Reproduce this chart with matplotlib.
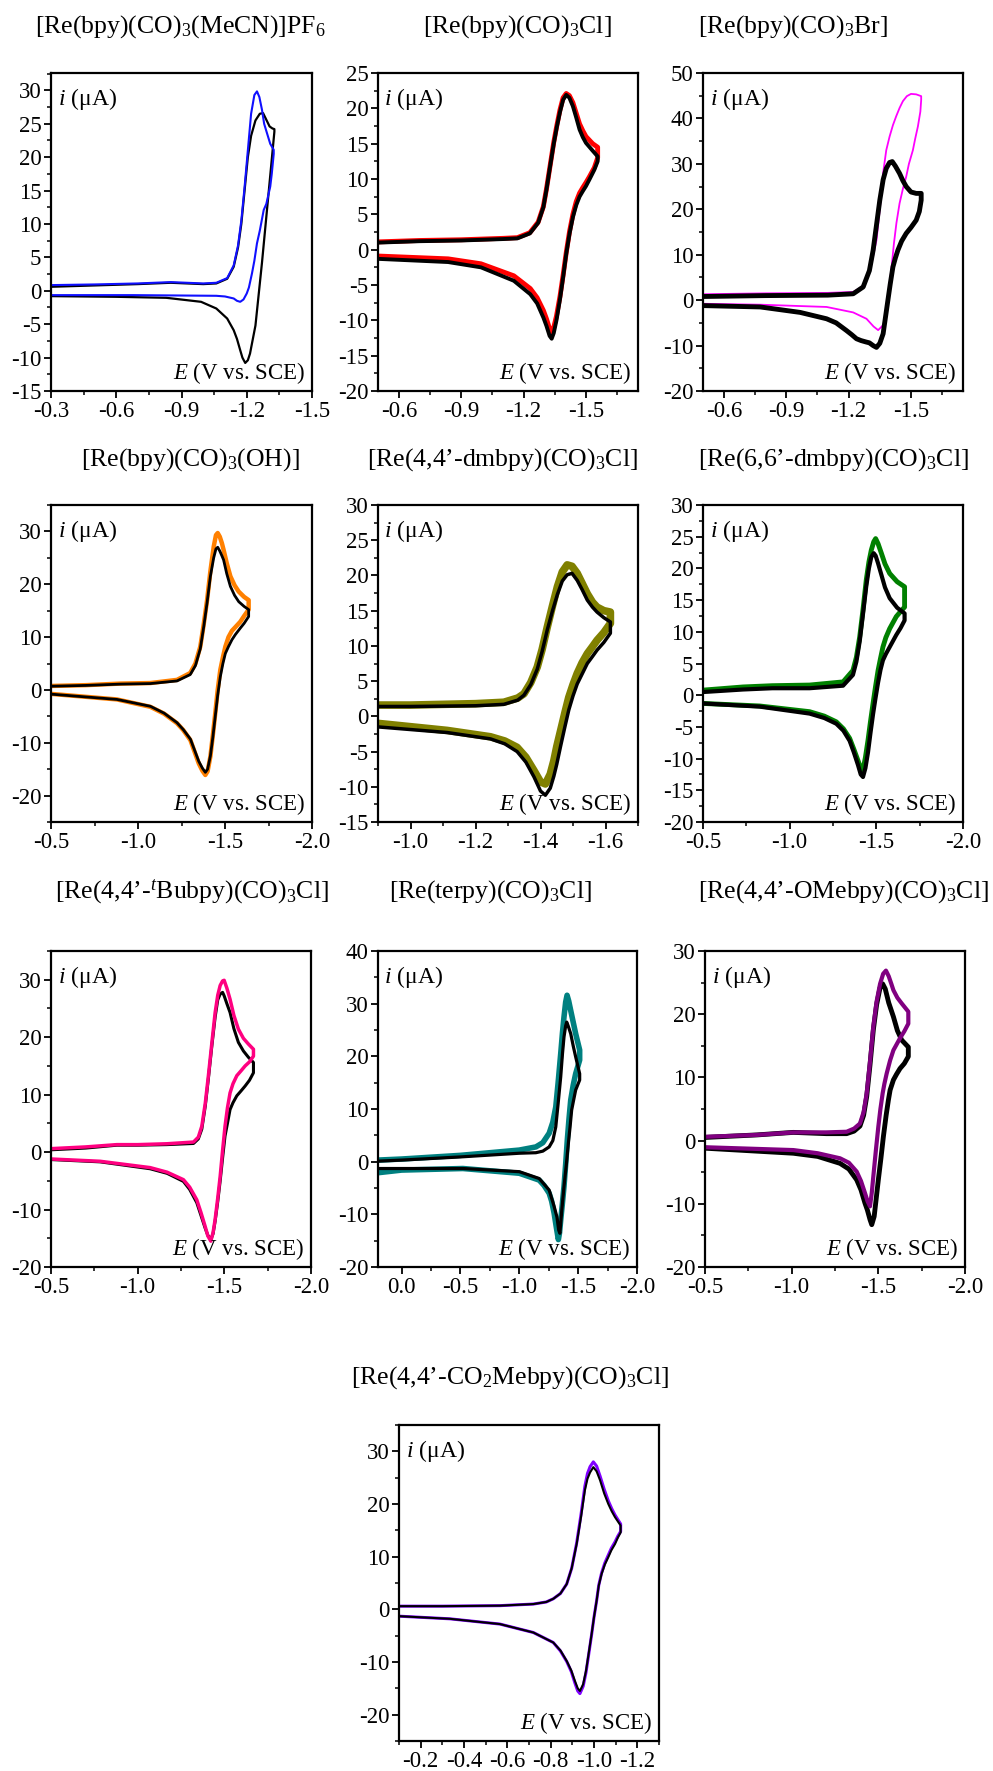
import matplotlib
matplotlib.use("Agg")
import matplotlib.pyplot as plt
from matplotlib.ticker import AutoMinorLocator, FormatStrFormatter, FixedLocator

plt.rcParams['font.family'] = ['Liberation Serif', 'DejaVu Serif']
plt.rcParams['mathtext.fontset'] = 'custom'
plt.rcParams['mathtext.rm'] = 'Liberation Serif'
plt.rcParams['mathtext.it'] = 'Liberation Serif:italic'
plt.rcParams['mathtext.default'] = 'regular'
plt.rcParams['axes.unicode_minus'] = False

# ---------------- data ----------------
titles = [
    r'[Re(bpy)(CO)$_3$(MeCN)]PF$_6$',
    r'[Re(bpy)(CO)$_3$Cl]',
    r'[Re(bpy)(CO)$_3$Br]',
    r'[Re(bpy)(CO)$_3$(OH)]',
    r'[Re(4,4’-dmbpy)(CO)$_3$Cl]',
    r'[Re(6,6’-dmbpy)(CO)$_3$Cl]',
    r'[Re(4,4’-$^{\mathit{t}}$Bubpy)(CO)$_3$Cl]',
    r'[Re(terpy)(CO)$_3$Cl]',
    r'[Re(4,4’-OMebpy)(CO)$_3$Cl]',
    r'[Re(4,4’-CO$_2$Mebpy)(CO)$_3$Cl]',
]

# Panel 1
p1_black_E = [-0.30, -0.50, -0.70, -0.85, -1.00, -1.06, -1.11, -1.14, -1.16, -1.175, -1.19, -1.205, -1.22, -1.24, -1.26, -1.275, -1.29, -1.305, -1.318, -1.327,
              -1.327, -1.30, -1.27, -1.24, -1.215, -1.205, -1.193, -1.18, -1.17, -1.155, -1.14, -1.11, -1.06, -0.99, -0.83, -0.60, -0.30]
p1_black_i = [0.6, 0.8, 1.0, 1.2, 1.0, 1.1, 1.8, 3.6, 6.5, 10.0, 15.0, 20.0, 23.2, 25.5, 26.5, 26.6, 25.6, 24.6, 24.3, 24.2,
              23.8, 14.5, 4.2, -5.2, -9.4, -10.4, -10.8, -10.0, -8.9, -7.2, -5.9, -4.15, -2.65, -1.65, -1.05, -0.9, -0.8]
p1_blue_E = [-0.30, -0.50, -0.70, -0.85, -1.00, -1.06, -1.11, -1.14, -1.16, -1.175, -1.19, -1.205, -1.22, -1.235, -1.247, -1.258, -1.27, -1.28, -1.293, -1.308, -1.324,
             -1.324, -1.315, -1.308, -1.29, -1.278, -1.26, -1.247, -1.235, -1.224, -1.21, -1.20, -1.185, -1.17, -1.155, -1.14, -1.10, -1.06, -0.68, -0.30]
p1_blue_i = [0.85, 0.95, 1.1, 1.3, 1.1, 1.2, 1.9, 3.8, 6.8, 10.5, 15.5, 21.0, 26.5, 29.3, 29.85, 29.0, 27.1, 25.0, 23.6, 22.0, 21.1,
             20.5, 17.5, 15.6, 13.0, 12.1, 9.0, 7.1, 4.5, 2.6, 0.5, -0.4, -1.3, -1.65, -1.5, -1.15, -0.85, -0.75, -0.65, -0.65]

# Panel 2
p2_E = [-0.5, -0.7, -0.9, -1.1, -1.17, -1.23, -1.27, -1.295, -1.31, -1.327, -1.345, -1.36, -1.375, -1.39, -1.405, -1.42, -1.437, -1.453, -1.469, -1.485, -1.50, -1.532, -1.556,
        -1.556, -1.54, -1.516, -1.50, -1.485, -1.469, -1.453, -1.437, -1.421, -1.405, -1.39, -1.375, -1.358, -1.345, -1.335, -1.325, -1.31, -1.295, -1.265, -1.232, -1.153, -0.995, -0.837, -0.5]
p2_black_i = [1.0, 1.2, 1.3, 1.5, 1.6, 2.3, 3.8, 6.0, 8.5, 11.7, 15.0, 17.4, 19.5, 21.2, 21.9, 21.5, 20.3, 18.7, 17.0, 15.9, 15.1, 14.0, 13.2,
              12.5, 11.3, 9.9, 9.0, 8.3, 7.5, 6.3, 4.6, 2.3, -0.6, -3.9, -7.0, -10.0, -11.8, -12.6, -12.2, -10.8, -9.6, -7.6, -6.3, -4.4, -2.5, -1.75, -1.3]
p2_red_i = [1.1, 1.3, 1.4, 1.6, 1.7, 2.4, 3.9, 6.1, 8.6, 11.8, 15.2, 17.6, 19.8, 21.5, 22.1, 21.8, 20.8, 19.3, 17.8, 16.8, 16.0, 15.0, 14.5,
            13.0, 11.6, 10.3, 9.5, 8.8, 8.0, 6.8, 5.0, 2.6, -0.4, -3.6, -6.6, -9.4, -11.0, -11.6, -11.2, -9.8, -8.6, -6.8, -5.5, -3.7, -2.0, -1.3, -0.9]

# Panel 3
p3_black_E = [-0.5, -0.8, -1.1, -1.222, -1.27, -1.30, -1.318, -1.334, -1.35, -1.366, -1.381, -1.397, -1.41, -1.425, -1.445, -1.461, -1.477, -1.50, -1.525, -1.549,
              -1.549, -1.54, -1.525, -1.50, -1.477, -1.455, -1.437, -1.425, -1.413, -1.40, -1.389, -1.375, -1.366, -1.35, -1.334, -1.318, -1.30, -1.283, -1.26, -1.238, -1.215, -1.19, -1.14, -1.094, -0.967, -0.775, -0.5]
p3_black_i = [0.8, 1.0, 1.1, 1.4, 2.9, 6.5, 11.0, 16.5, 22.0, 26.5, 29.0, 30.3, 30.5, 29.5, 27.9, 26.3, 25.0, 23.8, 23.5, 23.5,
              22.0, 19.5, 17.6, 16.0, 14.7, 13.0, 11.0, 9.3, 7.3, 3.5, 0.0, -4.5, -7.4, -9.5, -10.4, -10.0, -9.4, -9.2, -8.9, -8.5, -7.6, -6.7, -5.0, -4.1, -2.7, -1.5, -1.2]
p3_mag_E = [-0.5, -0.8, -1.1, -1.222, -1.26, -1.286, -1.31, -1.334, -1.35, -1.366, -1.381, -1.397, -1.413, -1.429, -1.445, -1.461, -1.48, -1.50, -1.525, -1.549,
            -1.549, -1.545, -1.533, -1.52, -1.509, -1.49, -1.477, -1.461, -1.445, -1.43, -1.418, -1.405, -1.397, -1.389, -1.381, -1.366, -1.342, -1.32, -1.286, -1.222, -1.094, -0.775, -0.5]
p3_mag_i = [1.3, 1.5, 1.6, 1.8, 2.8, 4.3, 8.0, 13.2, 20.0, 28.0, 33.0, 36.0, 38.5, 40.5, 42.3, 43.8, 44.9, 45.4, 45.3, 44.9,
            44.1, 41.5, 38.2, 35.5, 33.0, 30.0, 27.2, 24.5, 21.3, 17.0, 12.5, 6.5, 3.6, 0.5, -3.0, -5.5, -6.6, -5.8, -4.1, -2.7, -1.5, -1.0, -0.8]

# Panel 4
p4_E = [-0.5, -0.7, -0.9, -1.071, -1.224, -1.30, -1.33, -1.358, -1.378, -1.397, -1.416, -1.435, -1.448, -1.458, -1.47, -1.482, -1.492, -1.51, -1.531, -1.555, -1.579, -1.61, -1.636,
        -1.636, -1.61, -1.588, -1.56, -1.54, -1.52, -1.502, -1.488, -1.473, -1.458, -1.444, -1.43, -1.416, -1.40, -1.387, -1.37, -1.349, -1.325, -1.301, -1.26, -1.224, -1.15, -1.071, -0.879, -0.5]
p4_orange_i = [0.75, 0.9, 1.2, 1.3, 1.9, 3.2, 5.0, 8.2, 12.5, 17.0, 22.5, 27.1, 29.3, 29.7, 29.0, 27.8, 26.5, 24.0, 21.5, 19.8, 18.6, 17.6, 17.0,
               15.2, 14.0, 12.9, 11.9, 11.2, 10.0, 8.2, 6.2, 3.8, 0.0, -4.4, -8.6, -12.6, -15.4, -16.1, -15.3, -13.9, -11.7, -9.5, -7.6, -6.3, -4.5, -3.2, -1.8, -0.75]
p4_black_i = [0.7, 0.85, 1.1, 1.2, 1.7, 2.9, 4.6, 7.8, 12.0, 16.5, 21.5, 25.0, 26.7, 27.0, 26.3, 25.4, 24.6, 22.0, 19.6, 17.9, 16.7, 15.8, 15.2,
              13.9, 12.6, 11.7, 10.5, 9.5, 8.2, 6.9, 5.0, 2.5, -1.0, -5.0, -9.0, -12.5, -15.0, -15.6, -14.8, -13.5, -11.4, -9.3, -7.5, -6.2, -4.4, -3.1, -1.8, -0.8]

# Panel 5
p5_E = [-0.9, -1.0, -1.1, -1.2, -1.287, -1.33, -1.349, -1.37, -1.39, -1.405, -1.421, -1.437, -1.452, -1.467, -1.482, -1.497, -1.513, -1.528, -1.544, -1.56, -1.574, -1.595, -1.615,
        -1.615, -1.595, -1.574, -1.56, -1.544, -1.528, -1.513, -1.50, -1.487, -1.475, -1.462, -1.45, -1.441, -1.43, -1.415, -1.40, -1.38, -1.355, -1.328, -1.29, -1.246, -1.113, -0.9]
p5_olive_i = [1.6, 1.6, 1.7, 1.8, 2.0, 2.6, 3.2, 4.8, 7.0, 9.5, 12.7, 15.7, 18.4, 20.5, 21.5, 21.3, 20.3, 18.9, 17.4, 16.2, 15.5, 15.0, 14.8,
              13.2, 11.9, 10.8, 9.9, 8.9, 7.6, 6.1, 4.5, 2.7, 0.5, -2.0, -4.3, -6.3, -8.2, -9.6, -9.3, -7.7, -5.8, -4.4, -3.5, -2.9, -2.0, -1.0]
p5_black_i = [1.4, 1.4, 1.45, 1.5, 1.7, 2.3, 3.0, 4.5, 6.7, 9.2, 12.3, 15.0, 17.3, 19.2, 20.1, 20.3, 19.3, 18.0, 16.5, 15.5, 14.8, 14.0, 13.4,
              11.8, 10.5, 9.4, 8.5, 7.5, 6.0, 4.6, 2.9, 0.9, -1.5, -4.2, -6.8, -8.5, -10.2, -11.2, -10.6, -8.6, -6.5, -5.0, -3.9, -3.2, -2.3, -1.5]

# Panel 6
p6_E = [-0.5, -0.731, -0.9, -1.115, -1.308, -1.365, -1.385, -1.404, -1.423, -1.442, -1.457, -1.471, -1.485, -1.496, -1.51, -1.529, -1.55, -1.577, -1.62, -1.663,
        -1.663, -1.64, -1.615, -1.595, -1.577, -1.555, -1.538, -1.524, -1.51, -1.495, -1.481, -1.466, -1.452, -1.437, -1.423, -1.41, -1.394, -1.37, -1.346, -1.31, -1.269, -1.2, -1.115, -0.827, -0.5]
p6_green_i = [0.8, 1.3, 1.5, 1.6, 2.1, 3.9, 6.0, 9.2, 13.5, 18.2, 21.0, 22.9, 24.2, 24.7, 23.9, 22.4, 20.7, 19.2, 17.9, 17.1,
              13.9, 13.2, 12.4, 11.4, 10.5, 9.1, 7.6, 5.8, 3.9, 1.3, -1.3, -4.2, -7.1, -9.8, -11.8, -11.5, -10.3, -8.5, -6.8, -5.3, -4.2, -3.3, -2.6, -1.7, -1.3]
p6_black_i = [0.5, 0.9, 1.1, 1.1, 1.5, 3.2, 5.3, 8.5, 12.8, 17.2, 20.0, 21.8, 22.4, 22.0, 20.8, 19.0, 17.0, 15.3, 13.8, 12.9,
              11.8, 10.6, 9.5, 8.5, 7.6, 6.5, 5.5, 4.0, 2.0, -0.5, -3.0, -6.0, -9.0, -11.5, -12.9, -12.5, -11.0, -9.0, -7.2, -5.6, -4.5, -3.6, -2.9, -1.8, -1.3]

# Panel 7
p7_E = [-0.5, -0.7, -0.88, -1.0, -1.168, -1.322, -1.35, -1.37, -1.39, -1.408, -1.428, -1.447, -1.462, -1.476, -1.49, -1.499, -1.515, -1.533, -1.555, -1.581, -1.61, -1.639, -1.668,
        -1.668, -1.645, -1.62, -1.595, -1.572, -1.55, -1.533, -1.518, -1.504, -1.49, -1.476, -1.462, -1.447, -1.435, -1.422, -1.405, -1.389, -1.365, -1.341, -1.30, -1.264, -1.17, -1.072, -0.784, -0.5]
p7_pink_i = [0.6, 0.9, 1.3, 1.3, 1.45, 1.75, 2.6, 4.5, 8.5, 13.3, 19.0, 24.3, 27.3, 29.0, 29.8, 29.9, 28.5, 26.6, 23.8, 21.4, 19.8, 18.8, 17.9,
             16.7, 15.7, 15.0, 14.1, 13.3, 11.9, 10.3, 7.7, 4.5, 0.3, -4.2, -8.0, -11.7, -14.0, -15.5, -14.6, -12.9, -10.5, -8.3, -6.1, -4.8, -3.5, -2.7, -1.6, -1.2]
p7_black_i = [0.4, 0.7, 1.2, 1.2, 1.3, 1.5, 2.3, 4.0, 8.0, 12.8, 18.5, 23.5, 26.5, 27.5, 27.8, 27.2, 25.8, 24.3, 21.5, 19.1, 17.6, 16.5, 15.6,
              13.8, 12.5, 11.5, 10.6, 9.8, 8.6, 7.4, 5.0, 2.8, -1.0, -5.0, -8.6, -12.0, -14.2, -15.2, -14.5, -13.2, -11.0, -8.8, -6.5, -5.1, -3.7, -2.9, -1.7, -1.3]

# Panel 8
p8_teal_E = [0.2, 0.0, -0.5, -1.0, -1.141, -1.2, -1.254, -1.285, -1.31, -1.33, -1.352, -1.367, -1.38, -1.394, -1.406, -1.42, -1.437, -1.458, -1.479, -1.513,
             -1.513, -1.479, -1.458, -1.437, -1.422, -1.408, -1.394, -1.38, -1.366, -1.352, -1.342, -1.332, -1.315, -1.296, -1.275, -1.254, -1.21, -1.169, -1.0, -0.521, 0.0, 0.2]
p8_teal_i = [0.3, 0.5, 1.2, 2.2, 2.8, 3.6, 5.4, 7.5, 10.4, 15.0, 20.5, 24.5, 27.5, 30.3, 31.6, 30.5, 28.7, 26.5, 24.3, 21.2,
             19.3, 16.7, 14.5, 11.7, 8.0, 4.1, -0.5, -4.7, -8.0, -11.1, -13.5, -14.8, -12.5, -9.8, -7.5, -6.0, -4.5, -3.5, -2.2, -1.3, -1.6, -2.1]
p8_black_E = [0.2, 0.0, -0.5, -1.0, -1.141, -1.2, -1.254, -1.285, -1.31, -1.33, -1.352, -1.367, -1.38, -1.394, -1.403, -1.415, -1.437, -1.458, -1.479, -1.513,
              -1.513, -1.479, -1.46, -1.445, -1.431, -1.417, -1.40, -1.38, -1.36, -1.345, -1.335, -1.32, -1.296, -1.254, -1.169, -1.0, -0.521, 0.2]
p8_black_i = [0.1, 0.3, 0.9, 1.6, 1.7, 2.0, 2.8, 4.0, 6.6, 11.0, 16.1, 20.5, 23.7, 25.8, 26.5, 25.8, 24.3, 22.0, 19.9, 16.7,
              15.5, 13.6, 11.5, 9.8, 6.5, 3.5, -0.5, -4.7, -9.5, -13.6, -13.0, -10.5, -8.5, -5.4, -3.2, -1.9, -1.3, -1.3]

# Panel 9
p9_purple_E = [-0.5, -0.8, -1.01, -1.2, -1.317, -1.36, -1.394, -1.415, -1.433, -1.452, -1.471, -1.49, -1.51, -1.528, -1.544, -1.56, -1.575, -1.587, -1.61, -1.635, -1.673,
               -1.673, -1.65, -1.625, -1.605, -1.587, -1.568, -1.548, -1.535, -1.525, -1.512, -1.50, -1.486, -1.471, -1.462, -1.452, -1.438, -1.423, -1.40, -1.375, -1.33, -1.279, -1.15, -1.01, -0.5]
p9_purple_i = [0.6, 0.9, 1.3, 1.3, 1.4, 1.9, 2.7, 4.5, 7.5, 12.5, 18.0, 22.0, 24.8, 26.4, 26.9, 26.0, 24.8, 23.8, 22.6, 21.7, 20.4,
               18.5, 17.3, 16.2, 15.2, 14.3, 12.7, 10.6, 9.0, 7.5, 5.0, 2.2, -1.5, -5.7, -8.3, -10.4, -9.6, -8.3, -6.4, -4.9, -3.5, -2.8, -2.0, -1.5, -1.05]
p9_black_E = [-0.5, -0.8, -1.01, -1.2, -1.317, -1.36, -1.394, -1.415, -1.433, -1.452, -1.471, -1.49, -1.51, -1.525, -1.54, -1.56, -1.587, -1.61, -1.635, -1.673,
              -1.673, -1.65, -1.625, -1.605, -1.587, -1.568, -1.558, -1.545, -1.529, -1.515, -1.50, -1.486, -1.476, -1.462, -1.452, -1.437, -1.423, -1.40, -1.375, -1.33, -1.279, -1.15, -1.01, -0.5]
p9_black_i = [0.5, 0.9, 1.3, 1.1, 1.1, 1.5, 2.3, 4.0, 7.0, 12.0, 17.5, 21.5, 24.2, 24.8, 24.0, 21.8, 19.6, 17.4, 15.9, 14.8,
              13.3, 12.2, 11.4, 10.5, 9.6, 8.0, 6.4, 4.0, 0.6, -2.8, -6.2, -9.6, -12.0, -13.3, -12.5, -11.0, -9.9, -7.8, -6.2, -4.5, -3.6, -2.5, -2.0, -1.2]

# Panel 10
p10_E = [-0.1, -0.3, -0.566, -0.72, -0.78, -0.812, -0.845, -0.874, -0.897, -0.92, -0.94, -0.958, -0.97, -0.982, -0.997, -1.012, -1.028, -1.047, -1.066, -1.082, -1.097, -1.123,
         -1.123, -1.11, -1.097, -1.08, -1.066, -1.05, -1.035, -1.022, -1.012, -1.0, -0.989, -0.975, -0.963, -0.95, -0.935, -0.925, -0.912, -0.895, -0.874, -0.845, -0.812, -0.72, -0.566, -0.335, -0.1]
p10_black_i = [0.6, 0.6, 0.7, 1.0, 1.4, 2.0, 3.0, 4.8, 7.8, 12.4, 17.5, 22.6, 24.8, 26.0, 27.0, 26.2, 24.5, 22.0, 20.0, 18.6, 17.5, 15.9,
               14.6, 13.6, 12.4, 11.2, 9.9, 8.5, 6.7, 4.5, 1.6, -1.5, -4.7, -8.5, -11.7, -14.2, -15.5, -15.0, -13.6, -11.6, -9.8, -7.8, -6.3, -4.4, -2.8, -1.8, -1.3]
p10_violet_i = [0.6, 0.6, 0.7, 1.0, 1.4, 2.0, 3.0, 4.8, 7.8, 12.6, 18.0, 23.4, 25.8, 27.1, 28.0, 27.2, 25.3, 22.8, 20.6, 19.1, 17.9, 16.2,
                14.8, 13.9, 12.8, 11.6, 10.3, 8.8, 6.9, 4.6, 1.6, -1.5, -4.8, -8.7, -12.0, -14.6, -16.0, -15.5, -14.0, -11.8, -9.9, -7.9, -6.3, -4.4, -2.8, -1.8, -1.3]

# axis limits and ticks
xlims = [(-0.3, -1.5), (-0.5, -1.75), (-0.5, -1.75), (-0.5, -2.0), (-0.9, -1.7),
         (-0.5, -2.0), (-0.5, -2.0), (0.2, -2.0), (-0.5, -2.0), (-0.1, -1.3)]
ylims = [(-15, 32.6), (-20, 25), (-20, 50), (-25, 35), (-15, 30),
         (-20, 30), (-20, 35), (-20, 40), (-20, 30), (-25, 35)]
xticks = [[-0.3, -0.6, -0.9, -1.2, -1.5], [-0.6, -0.9, -1.2, -1.5], [-0.6, -0.9, -1.2, -1.5],
          [-0.5, -1.0, -1.5, -2.0], [-1.0, -1.2, -1.4, -1.6], [-0.5, -1.0, -1.5, -2.0],
          [-0.5, -1.0, -1.5, -2.0], [0.0, -0.5, -1.0, -1.5, -2.0], [-0.5, -1.0, -1.5, -2.0],
          [-0.2, -0.4, -0.6, -0.8, -1.0, -1.2]]
yticks = [list(range(-15, 31, 5)), list(range(-20, 26, 5)), list(range(-20, 51, 10)),
          list(range(-20, 31, 10)), list(range(-15, 31, 5)), list(range(-20, 31, 5)),
          list(range(-20, 31, 10)), list(range(-20, 41, 10)), list(range(-20, 31, 10)),
          list(range(-20, 31, 10))]

# ---------------- layout ----------------
W, H = 993, 1771
fig = plt.figure(figsize=(W / 100, H / 100), dpi=100)
fig.patch.set_facecolor('white')

boxes = [(51, 312, 73, 391), (378, 638, 73, 391), (703, 963, 73, 391),
         (51, 312, 505, 822), (378, 638, 505, 822), (703, 963, 505, 822),
         (51, 311, 951, 1267), (378, 637, 951, 1267), (705, 965, 951, 1267),
         (399, 659, 1425, 1741)]
title_pos = [(180, 27), (517, 27), (793, 27), (190, 460), (502, 460), (833, 460),
             (192, 892), (490, 892), (843, 892), (510, 1378)]

traces = [
    [(p1_black_E, p1_black_i, 'black', 1.6), (p1_blue_E, p1_blue_i, '#1010ff', 1.5)],
    [(p2_E, p2_red_i, '#ff0000', 3.5), (p2_E, p2_black_i, 'black', 2.8)],
    [(p3_mag_E, p3_mag_i, '#ff00ff', 1.3), (p3_black_E, p3_black_i, 'black', 3.5)],
    [(p4_E, p4_orange_i, '#ff8000', 3.2), (p4_E, p4_black_i, 'black', 2.0)],
    [(p5_E, p5_olive_i, '#808000', 5.5), (p5_E, p5_black_i, 'black', 2.5)],
    [(p6_E, p6_green_i, '#008000', 3.5), (p6_E, p6_black_i, 'black', 3.0)],
    [(p7_E, p7_black_i, 'black', 2.2), (p7_E, p7_pink_i, '#ff0080', 2.5)],
    [(p8_teal_E, p8_teal_i, '#008080', 4.0), (p8_black_E, p8_black_i, 'black', 2.3)],
    [(p9_black_E, p9_black_i, 'black', 3.5), (p9_purple_E, p9_purple_i, '#800080', 3.0)],
    [(p10_E, p10_violet_i, '#8000ff', 2.2), (p10_E, p10_black_i, 'black', 1.5)],
]

for k in range(10):
    x0, x1, y0, y1 = boxes[k]
    ax = fig.add_axes([x0 / W, 1 - y1 / H, (x1 - x0) / W, (y1 - y0) / H])
    for E, I, c, lw in traces[k]:
        ax.plot(E, I, color=c, lw=lw, solid_joinstyle='round', solid_capstyle='round')
    ax.set_xlim(*xlims[k])
    ax.set_ylim(*ylims[k])
    ax.xaxis.set_major_locator(FixedLocator(xticks[k]))
    ax.yaxis.set_major_locator(FixedLocator(yticks[k]))
    ax.xaxis.set_minor_locator(AutoMinorLocator(2))
    ax.yaxis.set_minor_locator(AutoMinorLocator(2))
    ax.xaxis.set_major_formatter(FormatStrFormatter('%.1f'))
    ax.yaxis.set_major_formatter(FormatStrFormatter('%d'))
    ax.tick_params(which='major', direction='out', length=5, width=1.3, labelsize=16.5, pad=2)
    ax.tick_params(which='minor', direction='out', length=3, width=1.1)
    for s in ax.spines.values():
        s.set_linewidth(1.6)
    ax.text(0.025, 0.96, r'$\mathit{i}$ (μA)', transform=ax.transAxes,
            ha='left', va='top', fontsize=17)
    ax.text(0.975, 0.015, r'$\mathit{E}$ (V vs. SCE)', transform=ax.transAxes,
            ha='right', va='bottom', fontsize=16.5)
    tx, ty = title_pos[k]
    fig.text(tx / W, 1 - ty / H, titles[k], ha='center', va='center', fontsize=18.5)

fig.savefig('out.png', dpi=100, facecolor='white')
